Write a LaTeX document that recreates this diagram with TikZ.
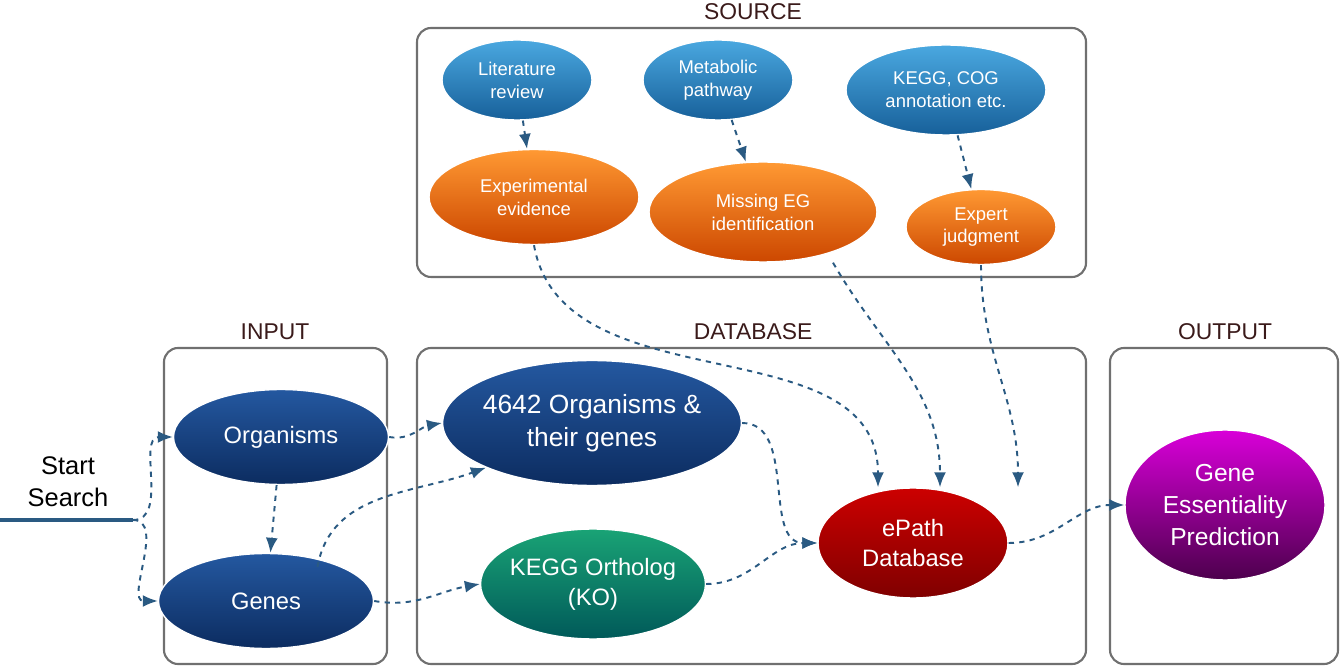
\documentclass[tikz,border=0pt]{standalone}
\usepackage{fontspec}
\setmainfont{Liberation Sans}
\usetikzlibrary{arrows.meta,shapes.geometric,positioning}
\definecolor{arrowblue}{HTML}{2A5A82}
\definecolor{boxgray}{HTML}{707070}
\definecolor{headtxt}{HTML}{3A1A1A}
\definecolor{navytop}{HTML}{2458A0}
\definecolor{navybot}{HTML}{0C2C60}
\definecolor{srctop}{HTML}{4AA8E0}
\definecolor{srcbot}{HTML}{17609A}
\tikzset{
  grp/.style={draw=boxgray, line width=1.2pt, rounded corners=8pt},
  head/.style={text=headtxt, font=\fontsize{13}{15}\selectfont},
  ell/.style={ellipse, draw=white, line width=0.8pt, text=white, align=center, inner sep=-2pt},
  srcB/.style={ell, top color=srctop, bottom color=srcbot, font=\fontsize{10.5}{13}\selectfont},
  srcO/.style={ell, top color=orange!80!white, bottom color=orange!70!red!80!black, font=\fontsize{10.5}{13}\selectfont},
  navy/.style={ell, top color=navytop, bottom color=navybot, font=\fontsize{13.5}{17}\selectfont},
  teal/.style={ell, top color=teal!80!green!90, bottom color=teal!70!black, font=\fontsize{13.5}{17}\selectfont},
  redE/.style={ell, top color=red!80!black, bottom color=red!50!black, font=\fontsize{13.5}{17}\selectfont},
  purp/.style={ell, top color=magenta!70!violet, bottom color=violet!60!black, font=\fontsize{14}{18}\selectfont},
  flow/.style={draw=arrowblue, line width=1.1pt, dashed, -{Latex[length=3mm,width=2.4mm]}}
}
\begin{document}
\begin{tikzpicture}[x=0.02cm, y=-0.02cm]
  \useasboundingbox (0,0) rectangle (1342,668);

  % groups
  \draw[grp] (417,28) rectangle (1086,277);
  \draw[grp] (164,348) rectangle (387,664);
  \draw[grp] (417,348) rectangle (1086,664);
  \draw[grp] (1110,348) rectangle (1338,664);
  \node[head] (hsrc) at (753,12) {SOURCE};
  \node[head] (hin) at (275,332) {INPUT};
  \node[head] (hdb) at (753,332) {DATABASE};
  \node[head] (hout) at (1225,332) {OUTPUT};

  % source
  \node[srcB, minimum width=150*0.02cm, minimum height=80*0.02cm] (lit) at (517,80) {Literature\\review};
  \node[srcB, minimum width=150*0.02cm, minimum height=80*0.02cm] (met) at (718,80) {Metabolic\\pathway};
  \node[srcB, minimum width=200*0.02cm, minimum height=90*0.02cm] (kegg) at (946,90) {KEGG, COG\\annotation etc.};
  \node[srcO, minimum width=210*0.02cm, minimum height=95*0.02cm] (exp) at (534,197) {Experimental\\evidence};
  \node[srcO, minimum width=228*0.02cm, minimum height=100*0.02cm] (miss) at (763,212) {Missing EG\\identification};
  \node[srcO, minimum width=150*0.02cm, minimum height=75*0.02cm] (judg) at (981,227) {Expert\\judgment};

  % input, database, output
  \node[navy, minimum width=215*0.02cm, minimum height=95*0.02cm] (org) at (281,437) {Organisms};
  \node[navy, minimum width=215*0.02cm, minimum height=95*0.02cm] (gen) at (266,601) {Genes};
  \node[navy, minimum width=275*0.02cm, minimum height=125*0.02cm, font=\fontsize{15}{19}\selectfont] (orgs) at (592,423) {4642 Organisms \&\\their genes};
  \node[teal, minimum width=210*0.02cm, minimum height=110*0.02cm] (ko) at (593,584) {KEGG Ortholog\\(KO)};
  \node[redE, minimum width=190*0.02cm, minimum height=110*0.02cm] (epath) at (913,543) {ePath\\Database};
  \node[purp, minimum width=200*0.02cm, minimum height=150*0.02cm] (pred) at (1225,505) {Gene\\Essentiality\\Prediction};

  % start
  \node[font=\fontsize{14.5}{18}\selectfont, align=center] (start) at (68,482) {Start\\Search};
  \coordinate (s0) at (0,520);
  \coordinate (split) at (133,520);
  \draw[arrowblue, line width=2pt] (s0) -- (split);

  % connectors
  \draw[flow] (split) to[out=0,in=180] (org.west);
  \draw[flow] (split) to[out=0,in=180] (gen.west);
  \draw[flow] (org) -- (gen);
  \draw[flow] (org.east) to[out=-10,in=190] (orgs.west);
  \draw[flow] ([xshift=-25*0.02cm]gen.north east) to[out=80,in=200] (orgs.south west);
  \draw[flow] (gen.east) to[out=-10,in=190] (ko.west);
  \draw[flow] (orgs.east) to[out=0,in=180] (epath.west);
  \draw[flow] (ko.east) to[out=0,in=180] (epath.west);
  \draw[flow] (epath.east) to[out=0,in=180] (pred.west);
  \draw[flow] (lit) -- (exp);
  \draw[flow] (met) -- (miss);
  \draw[flow] (kegg) -- (judg);
  \draw[flow] (exp.south) to[out=-80,in=90] ([xshift=-35*0.02cm]epath.north);
  \draw[flow] ([xshift=70*0.02cm]miss.south) to[out=-60,in=90] ([xshift=27*0.02cm]epath.north);
  \draw[flow] (judg.south) to[out=-90,in=90] ([xshift=105*0.02cm]epath.north);
\end{tikzpicture}
\end{document}
